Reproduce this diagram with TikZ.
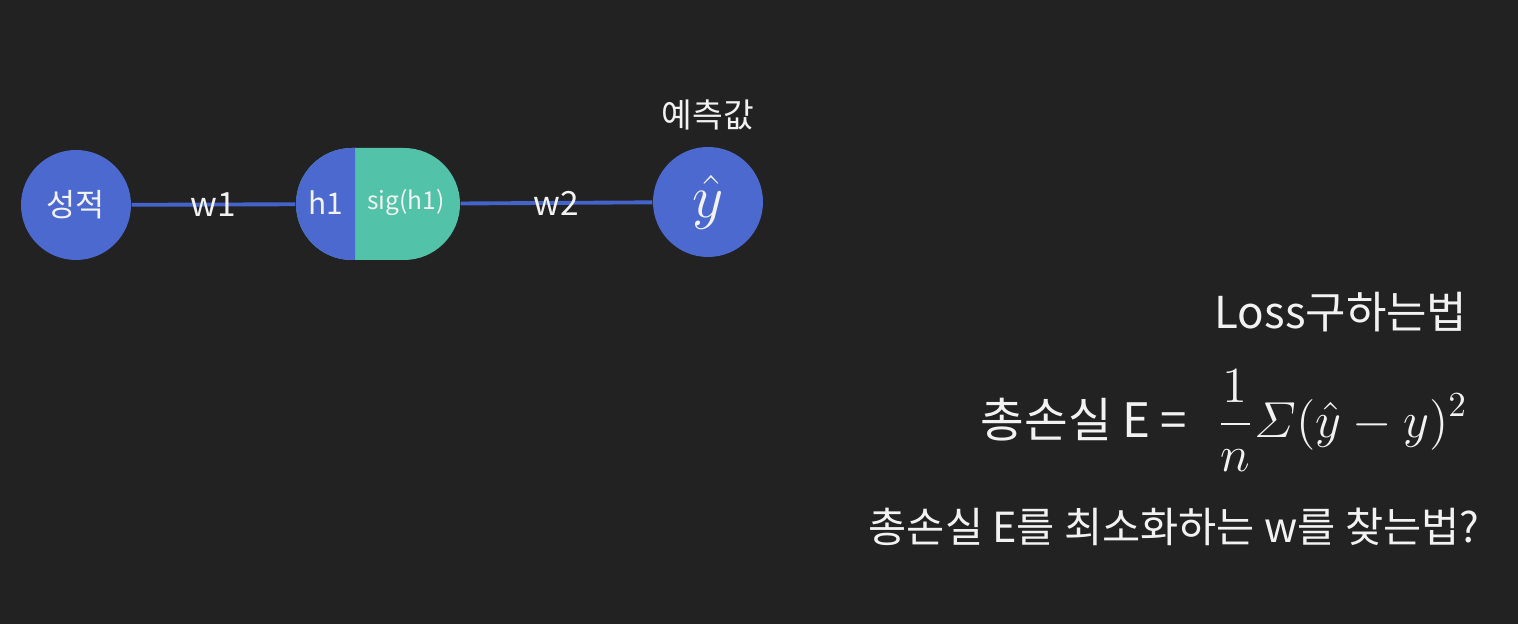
\documentclass[tikz,border=0pt]{standalone}
\usepackage{amsmath}
\usepackage{fontspec}
\usepackage{xcolor}
\usetikzlibrary{shapes.misc, positioning, calc}
\newfontfamily\krfont{Noto Sans CJK KR}
\definecolor{slideBg}{HTML}{222222}
\definecolor{nodeBlue}{HTML}{4B69CF}
\definecolor{nodeTeal}{HTML}{52C2A8}
\definecolor{linkBlue}{HTML}{4463CB}
\definecolor{textLight}{HTML}{F2F2F2}

\begin{document}
\begin{tikzpicture}[
  neuron/.style={circle, fill=nodeBlue, minimum size=11mm, inner sep=0pt,
                 text=textLight, font=\krfont\fontsize{9}{11}\selectfont},
  pill/.style={rounded rectangle, fill=nodeTeal, minimum width=16.4mm,
               minimum height=11.2mm, inner sep=0pt},
  celltxt/.style={text=textLight, font=\krfont\fontsize{8.5}{10}\selectfont},
  link/.style={draw=linkBlue, line width=1.1pt},
  wlabel/.style={text=textLight, font=\krfont\fontsize{9.5}{11}\selectfont, inner sep=0pt},
  slidetxt/.style={text=textLight, font=\krfont\fontsize{11.8}{14}\selectfont, inner sep=0pt},
]
% --- background / frame ---
\fill[slideBg] (0,0) rectangle (15.18,6.24);
\useasboundingbox (0,0) rectangle (15.18,6.24);

% --- network ---
\node[neuron] (grade) at (0.76,4.19) {성적};
\node[pill] (hid) at (3.78,4.20) {};
\begin{scope}
  \clip ($(hid.center)+(-1,-0.7)$) rectangle ($(hid.center)+(-0.23,0.7)$);
  \node[pill, fill=nodeBlue] at (hid) {};
\end{scope}
\node[celltxt] (h1)  at (3.26,4.21) {h1};
\node[celltxt, font=\krfont\fontsize{7}{8}\selectfont] (sig) at (4.06,4.21) {sig(h1)};
\node[neuron, font=\fontsize{16}{18}\selectfont] (yhat) at (7.08,4.22) {$\hat{y}$};
\node[wlabel, above=1.5mm of yhat] (predlbl) {예측값};

\draw[link] (grade) -- (hid) node[wlabel, pos=0.5] (w1) {w1};
\draw[link] (hid) -- (yhat) node[wlabel, pos=0.5] (w2) {w2};

% --- loss text ---
\node[slidetxt, font=\krfont\fontsize{12.5}{15}\selectfont, anchor=east] (losstitle) at (14.68,3.12) {Loss구하는법};
\node[text=textLight, font=\fontsize{14.5}{17}\selectfont, inner sep=0pt] (formula) at (13.42,2.03)
  {$\displaystyle \frac{1}{n}\varSigma(\hat{y}-y)^{2}$};
\node[slidetxt, font=\krfont\fontsize{13.5}{16}\selectfont, anchor=east] (losslhs) at (11.88,2.04) {총손실 E =};
\node[slidetxt] (question) at (11.74,0.97) {총손실 E를 최소화하는 w를 찾는법?};
\end{tikzpicture}
\end{document}
